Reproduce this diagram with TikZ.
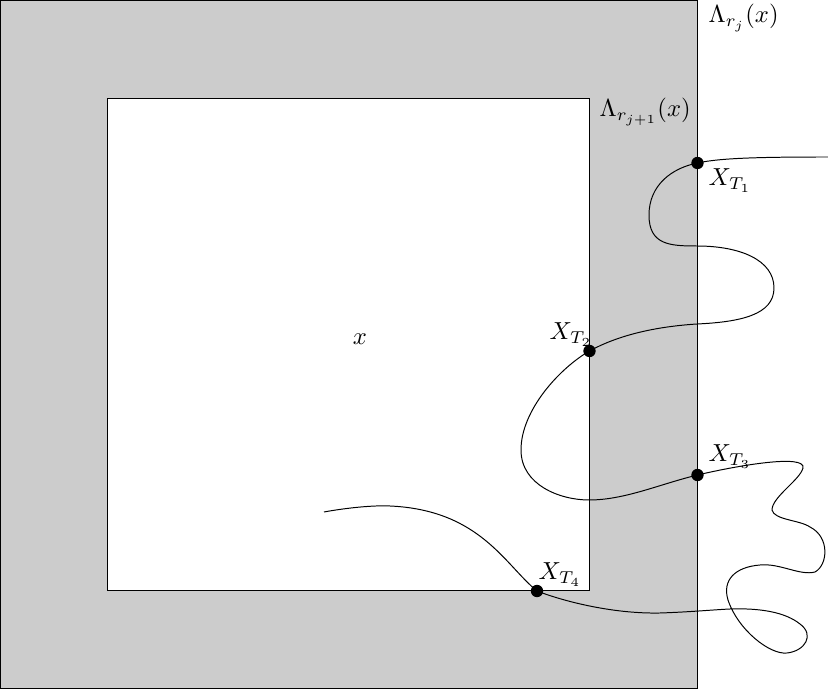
\documentclass[tikz,border=0pt]{standalone}
\begin{document}
\begin{tikzpicture}[x=0.406pt,y=-0.406pt,
  dot/.style={circle,fill=black,inner sep=0pt,minimum size=5pt},
  lbl/.style={anchor=base west}]
\useasboundingbox (0,0) rectangle (828,691);
\draw[fill=black!20] (0.5,0.5) rectangle (697.5,688.5);
\draw[fill=white] (107,98.5) rectangle (589.5,590);
\node (x) at (360,339) {$x$};
\node[lbl] (L1) at (700,23) {$\Lambda_{r_j}(x)$};
\node[lbl] (L2) at (591,117) {$\Lambda_{r_{j+1}}(x)$};
\coordinate (S) at (828,157);
\coordinate (T1) at (697.5,163);
\coordinate (T2) at (589.5,351);
\coordinate (T3) at (697.5,475);
\coordinate (T4) at (537,591);
\coordinate (E) at (324,512);
\draw (S) .. controls (760,157) and (720,158) .. (T1)
  .. controls (672,168) and (649,185) .. (649,215)
  .. controls (649,245) and (670,246) .. (697,246)
  .. controls (740,246) and (774,260) .. (774,288)
  .. controls (774,315) and (740,322) .. (697,324)
  .. controls (650,327) and (615,337) .. (T2)
  .. controls (560,368) and (521,410) .. (521,450)
  .. controls (521,485) and (560,500) .. (589,500)
  .. controls (625,500) and (660,484) .. (T3)
  .. controls (740,465) and (806,454) .. (803,468)
  .. controls (800,480) and (772,497) .. (772,510)
  .. controls (774,520) and (800,520) .. (810,527)
  .. controls (830,537) and (828,565) .. (815,572)
  .. controls (800,576) and (780,563) .. (760,565)
  .. controls (735,567) and (722,580) .. (728,600)
  .. controls (738,630) and (770,655) .. (787,653)
  .. controls (805,651) and (815,635) .. (800,624)
  .. controls (785,612) and (760,608) .. (730,609)
  .. controls (710,610) and (690,612) .. (660,613)
  .. controls (610,614) and (560,600) .. (T4)
  .. controls (505,565) and (480,510) .. (390,506)
  .. controls (370,505) and (340,509) .. (E);
\node[dot] (d1) at (T1) {};
\node[dot] (d2) at (T2) {};
\node[dot] (d3) at (T3) {};
\node[dot] (d4) at (T4) {};
\node[lbl] (X1) at (700,186) {$X_{T_1}$};
\node[lbl] (X2) at (541,340) {$X_{T_2}$};
\node[lbl] (X3) at (700,462) {$X_{T_3}$};
\node[lbl] (X4) at (530,580) {$X_{T_4}$};
\end{tikzpicture}
\end{document}
